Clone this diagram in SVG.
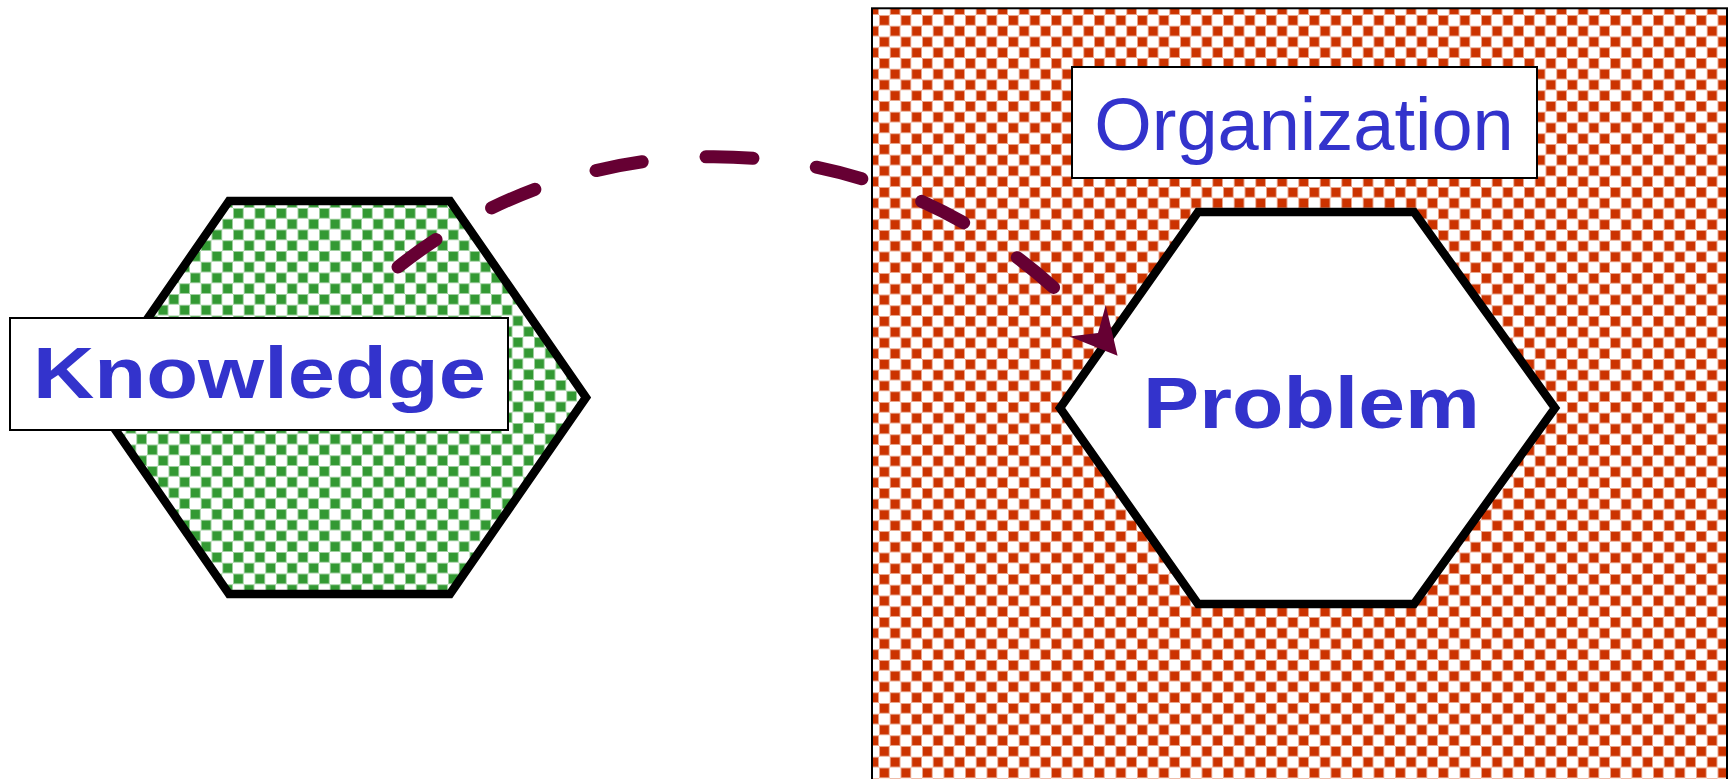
<svg xmlns="http://www.w3.org/2000/svg" width="1735" height="779" viewBox="0 0 1735 779">
  <style>
    .hex { stroke: #000; stroke-width: 8.5; stroke-linejoin: miter; }
    .label { fill: #fff; stroke: #000; stroke-width: 2; }
    .txt { fill: #3333cc; font-family: "Liberation Sans", Arial, sans-serif; }
    .bold { font-weight: bold; font-size: 73px; }
    .conn { fill: none; stroke: #660033; stroke-width: 13; stroke-linecap: round; stroke-dasharray: 47 64; }
  </style>
  <defs>
    <pattern id="redCheck" patternUnits="userSpaceOnUse" x="879" y="15" width="21.5" height="21.5">
      <rect x="0" y="0" width="21.5" height="21.5" fill="#fff"/>
      <rect x="0" y="0" width="10.75" height="10.75" fill="#e9a58c"/>
      <rect x="10.75" y="10.75" width="10.75" height="10.75" fill="#e9a58c"/>
      <rect x="1" y="1" width="8.75" height="8.75" fill="#cc3300"/>
      <rect x="11.75" y="11.75" width="8.75" height="8.75" fill="#cc3300"/>
    </pattern>
    <pattern id="greenCheck" patternUnits="userSpaceOnUse" x="233" y="208" width="21.5" height="21.5">
      <rect x="0" y="0" width="21.5" height="21.5" fill="#fff"/>
      <rect x="0" y="0" width="10.75" height="10.75" fill="#9fcf9f"/>
      <rect x="10.75" y="10.75" width="10.75" height="10.75" fill="#9fcf9f"/>
      <rect x="1" y="1" width="8.75" height="8.75" fill="#339933"/>
      <rect x="11.75" y="11.75" width="8.75" height="8.75" fill="#339933"/>
    </pattern>
    <marker id="arrow" markerUnits="userSpaceOnUse" viewBox="-20 -30 60 60" markerWidth="60" markerHeight="60" refX="0" refY="0" orient="auto">
      <path d="M-16,-24 L30,0 L-16,24 L0,0 Z" fill="#660033"/>
    </marker>
  </defs>

  <g id="organization">
    <rect x="872" y="8.3" width="855" height="800" fill="url(#redCheck)" stroke="#000" stroke-width="2"/>
    <rect class="label" x="1072" y="67" width="465" height="111"/>
    <text class="txt" x="1304" y="150" text-anchor="middle" font-size="74">Organization</text>
  </g>

  <g id="problem">
    <polygon class="hex" points="1198,212 1414,212 1555,408 1414,604 1198,604 1060,408" fill="#fff"/>
    <text class="txt bold" x="1143" y="428" textLength="337" lengthAdjust="spacingAndGlyphs">Problem</text>
  </g>

  <g id="knowledge">
    <polygon class="hex" points="229,201 450,201 586,397.5 450,594 229,594 93,397.5" fill="url(#greenCheck)"/>
    <rect class="label" x="10" y="318" width="498" height="112"/>
    <text class="txt bold" x="33" y="398" textLength="453" lengthAdjust="spacingAndGlyphs">Knowledge</text>
  </g>

  <g id="connectors">
    <path class="conn" d="M398,267 A507,507 0 0 1 1098,333" marker-end="url(#arrow)"/>
  </g>
</svg>
